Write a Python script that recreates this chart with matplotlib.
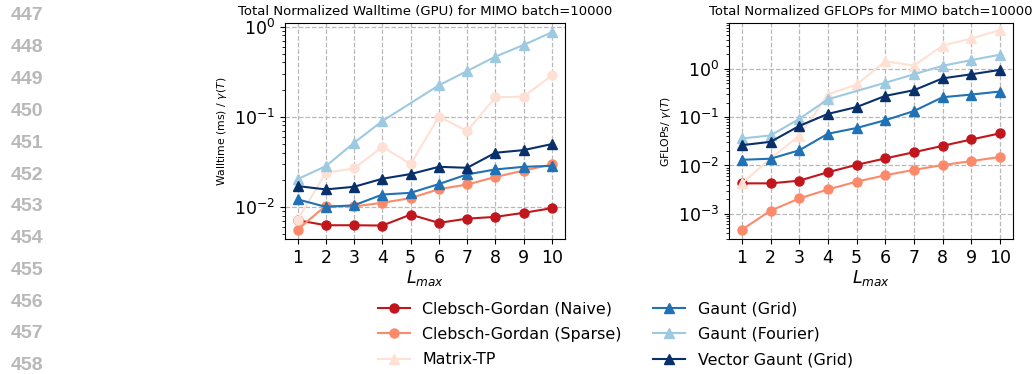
import matplotlib.pyplot as plt
import numpy as np

L = [1, 2, 3, 4, 5, 6, 7, 8, 9, 10]
L_fourier = [1, 2, 3, 4, 6, 7, 8, 9, 10]

LABELS = ['Clebsch-Gordan (Naive)', 'Clebsch-Gordan (Sparse)', 'Matrix-TP',
          'Gaunt (Grid)', 'Gaunt (Fourier)', 'Vector Gaunt (Grid)']
COLORS = ['#c1161c', '#fc8a6a', '#fee1d4', '#2171b5', '#9ecae1', '#08306b']

# walltime (ms) / gamma(T)
wall_cg_naive = [0.0071, 0.00625, 0.00625, 0.0062, 0.0082, 0.00664, 0.0074, 0.00774, 0.00858, 0.00967]
wall_cg_sparse = [0.0056, 0.0103, 0.0101, 0.0111, 0.0125, 0.0157, 0.0177, 0.0214, 0.0253, 0.0295]
wall_matrix_tp = [0.0072, 0.0239, 0.0267, 0.0464, 0.0298, 0.100, 0.0693, 0.164, 0.167, 0.288]
wall_gaunt_grid = [0.0121, 0.0100, 0.0104, 0.0137, 0.0143, 0.0179, 0.0229, 0.0260, 0.0278, 0.0285]
wall_gaunt_fourier = [0.0203, 0.0283, 0.0514, 0.0896, 0.223, 0.321, 0.464, 0.625, 0.865]
wall_vector_gaunt = [0.0170, 0.0156, 0.0167, 0.0205, 0.0231, 0.0278, 0.0271, 0.0398, 0.0426, 0.0497]

# GFLOPs / gamma(T)
flops_cg_naive = [0.00426, 0.00426, 0.00484, 0.00725, 0.0103, 0.0140, 0.0188, 0.0255, 0.0345, 0.0462]
flops_cg_sparse = [0.000469, 0.00116, 0.00207, 0.00319, 0.00462, 0.00627, 0.00811, 0.0102, 0.0123, 0.0150]
flops_matrix_tp = [0.00426, 0.0140, 0.0412, 0.294, 0.477, 1.43, 1.17, 3.04, 4.26, 6.37]
flops_gaunt_grid = [0.0131, 0.0138, 0.0206, 0.0454, 0.0597, 0.0865, 0.134, 0.259, 0.294, 0.340]
flops_gaunt_fourier = [0.0362, 0.0419, 0.0923, 0.235, 0.516, 0.773, 1.16, 1.52, 1.97]
flops_vector_gaunt = [0.0263, 0.0309, 0.0658, 0.117, 0.162, 0.276, 0.362, 0.637, 0.773, 0.953]

fig = plt.figure(figsize=(10.36, 3.74), dpi=100)
axWall = fig.add_axes([0.275, 0.361, 0.270, 0.578])
axFlops = fig.add_axes([0.7037, 0.361, 0.274, 0.578])

# line numbers from the page margin
for i, n in enumerate(range(447, 459)):
  fig.text(0.01, 1 - (16 + 31.8 * i) / 374, str(n), fontsize=14, fontweight='bold',
           color='#b8b8b8', family='Liberation Sans', va='center', ha='left')

wallSeries = [(L, wall_cg_naive, 'o'), (L, wall_cg_sparse, 'o'), (L, wall_matrix_tp, 'o'),
              (L, wall_gaunt_grid, '^'), (L_fourier, wall_gaunt_fourier, '^'),
              (L, wall_vector_gaunt, '^')]
flopsSeries = [(L, flops_cg_naive, 'o'), (L, flops_cg_sparse, 'o'), (L, flops_matrix_tp, '^'),
               (L, flops_gaunt_grid, '^'), (L_fourier, flops_gaunt_fourier, '^'),
               (L, flops_vector_gaunt, '^')]

for (x, y, m), label, color in zip(wallSeries, LABELS, COLORS):
  axWall.plot(x, y, marker=m, color=color, label=label, markersize=6.5, linewidth=1.5)
for (x, y, m), label, color in zip(flopsSeries, LABELS, COLORS):
  axFlops.plot(x, y, marker=m, color=color, label=label, markersize=6.5, linewidth=1.5)

for axis in (axWall, axFlops):
  axis.set_yscale('log')
  axis.set_xticks(L)
  axis.set_xlim(0.55, 10.45)
  axis.tick_params(axis='both', which='major', labelsize=12.5)
  axis.grid(True, which='major', linestyle='--', color='#b8b8b8', linewidth=0.9)
  axis.set_xlabel('$L_{max}$', fontsize=12.5, labelpad=1)

axWall.set_ylim(0.0044, 1.1)
axFlops.set_ylim(0.0003, 9.0)

axWall.set_title('Total Normalized Walltime (GPU) for MIMO batch=10000', fontsize=9.5, pad=5.5)
axFlops.set_title('Total Normalized GFLOPs for MIMO batch=10000', fontsize=9.5, pad=5.5)
axWall.set_ylabel(r'Walltime (ms) / $\gamma(T)$', fontsize=7.8)
axFlops.set_ylabel(r'GFLOPs/ $\gamma(T)$', fontsize=7.8)

handles, labels = axFlops.get_legend_handles_labels()
fig.legend(handles, labels, loc='upper center', bbox_to_anchor=(0.594, 0.232), ncols=2,
           frameon=False, fontsize=11.4, handlelength=2.0, columnspacing=2.0,
           labelspacing=0.66)

fig.savefig('out.png', dpi=100)
